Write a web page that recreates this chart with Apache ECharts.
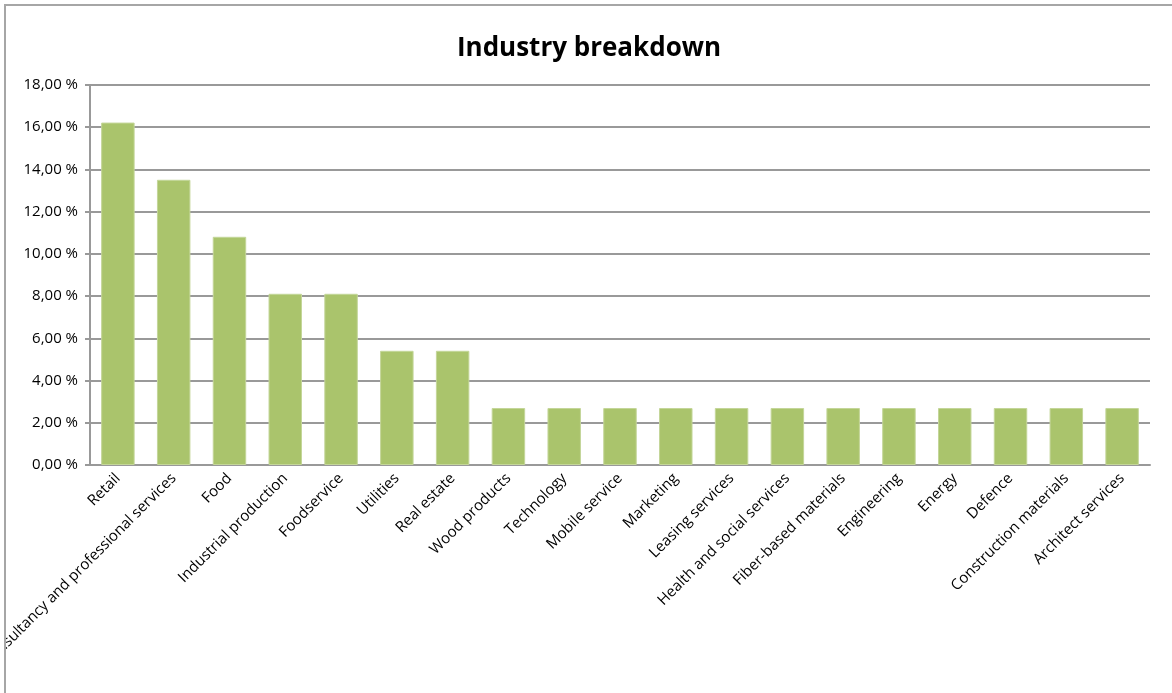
<!DOCTYPE html>
<html>
<head>
<meta charset="utf-8">
<script src="https://cdn.jsdelivr.net/npm/echarts@6/dist/echarts.min.js"></script>
<style>
  html, body { margin: 0; padding: 0; background: #fff; overflow: hidden; }
  #frame {
    position: absolute; left: 4px; top: 4px; width: 1170px; height: 700px;
    border-left: 2px solid #a6a6a6; border-top: 2px solid #a6a6a6;
  }
  #chart { position: absolute; left: 6px; top: 6px; width: 1166px; height: 687px; }
</style>
</head>
<body>
<div id="frame"></div>
<div id="chart"></div>
<script>
// industries (sorted by share)
const categories = [
  'Retail', 'Consultancy and professional services', 'Food', 'Industrial production',
  'Foodservice', 'Utilities', 'Real estate', 'Wood products', 'Technology',
  'Mobile service', 'Marketing', 'Leasing services', 'Health and social services',
  'Fiber-based materials', 'Engineering', 'Energy', 'Defence',
  'Construction materials', 'Architect services'
];
// share of companies, in %
const shares = [
  16.22, 13.51, 10.81, 8.11, 8.11, 5.41, 5.41, 2.70, 2.70,
  2.70, 2.70, 2.70, 2.70, 2.70, 2.70, 2.70, 2.70, 2.70, 2.70
];

let chartDom = document.getElementById('chart')
let myChart = echarts.init(chartDom)
let option = {
  animation: false,
  title: {
    text: 'Industry breakdown',
    left: 'center',
    top: 25,
    textStyle: { fontFamily: 'Open Sans', fontSize: 26, fontWeight: 'bold', color: '#000' }
  },
  grid: { left: 84, right: 22, top: 79, bottom: 228, containLabel: false, outerBoundsMode: 'none' },
  xAxis: {
    type: 'category',
    data: categories,
    axisLine: { lineStyle: { color: '#999', width: 2 } },
    axisTick: { show: false },
    axisLabel: {
      interval: 0,
      rotate: 45,
      margin: 11,
      fontFamily: 'Open Sans',
      fontSize: 15,
      color: '#000'
    }
  },
  yAxis: {
    type: 'value',
    min: 0,
    max: 18,
    interval: 2,
    axisLine: { show: true, lineStyle: { color: '#999', width: 2 } },
    axisTick: { show: true, length: 5, lineStyle: { color: '#999', width: 2 } },
    splitLine: { lineStyle: { color: '#999', width: 2 } },
    axisLabel: {
      margin: 12,
      fontFamily: 'Open Sans',
      fontSize: 15,
      color: '#000',
      formatter: function (v) { return v.toFixed(2).replace('.', ',') + ' %' }
    }
  },
  series: [{
    type: 'bar',
    data: shares,
    barCategoryGap: '40%',
    itemStyle: { color: '#aac46c', borderColor: '#c4d699', borderWidth: 1 }
  }]
};
myChart.setOption(option)
</script>
</body>
</html>
